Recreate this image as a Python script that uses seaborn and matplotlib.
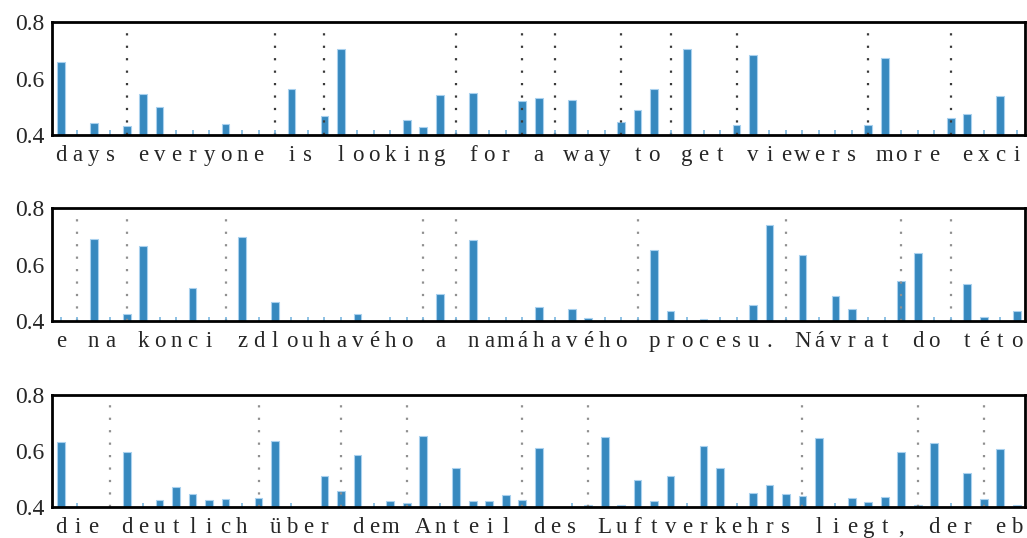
import numpy as np
import pandas as pd
import seaborn as sns
import matplotlib.pyplot as plt

# S = score under the 0.4 floor (drawn as a short stub), None = no mark
S = 0.38

text_en = "days everyone is looking for a way to get viewers more exci"
scores_en = [0.661, S, 0.442, S, 0.431, 0.546, 0.501, S, S, S,
             0.439, S, S, S, 0.563, S, 0.466, 0.705, S, S,
             S, 0.453, 0.428, 0.542, S, 0.548, S, S, 0.521, 0.531,
             S, 0.525, S, S, 0.447, 0.488, 0.564, S, 0.707, S,
             S, 0.437, 0.685, S, S, S, S, S, S, 0.434,
             0.675, S, S, S, 0.462, 0.475, S, 0.538, S]

text_cs = "e na konci zdlouhavého a namáhavého procesu. Návrat do této"
scores_cs = [S, S, 0.693, S, 0.425, 0.665, S, S, 0.516, S,
             S, 0.697, S, 0.466, S, S, S, S, 0.424, None,
             S, S, S, 0.495, S, 0.689, S, S, S, 0.450,
             S, 0.443, 0.411, S, S, S, 0.651, 0.434, S, 0.407,
             S, S, 0.456, 0.741, S, 0.635, S, 0.489, 0.443, S,
             S, 0.543, 0.640, S, S, 0.533, 0.415, S, 0.437]

text_de = "die deutlich über dem Anteil des Luftverkehrs liegt, der eb"
scores_de = [0.632, S, None, None, 0.597, S, 0.425, 0.473, 0.448, 0.425,
             0.428, S, 0.432, 0.635, S, None, 0.511, 0.458, 0.585, S,
             0.421, 0.415, 0.652, S, 0.539, 0.422, 0.421, 0.444, 0.426, 0.611,
             None, S, 0.408, 0.649, 0.407, 0.497, 0.421, 0.511, S, 0.617,
             0.539, S, 0.450, 0.479, 0.447, 0.440, 0.645, S, 0.434, 0.418,
             0.435, 0.597, 0.407, 0.629, S, 0.522, 0.428, 0.606, 0.407]

panels = [(text_en, scores_en, "#3a3a3a", 0.7491),
          (text_cs, scores_cs, "#909090", 0.4033),
          (text_de, scores_de, "#909090", 0.0570)]

BAR = "#3789bf"
EDGE = "#a9d1ee"
FLOOR = 0.4

sns.set_style("white")
plt.rcParams["font.family"] = ["Liberation Serif", "DejaVu Serif"]

fig = plt.figure(figsize=(10.27, 5.38), dpi=100)

for text, scores, dotcol, bottom in panels:
    ax = fig.add_axes([0.0511, bottom, 0.9469, 0.2093])
    n = len(text)
    df = pd.DataFrame({"pos": list(range(n)), "score": scores}).dropna()
    df["score"] = df["score"].astype(float)

    sns.barplot(data=df, x="pos", y="score", order=list(range(n)),
                color=BAR, saturation=1, width=0.47,
                edgecolor=EDGE, linewidth=0.8, ax=ax)

    # scores under the floor show as thin stubs on the axis
    low = df[df["score"] < FLOOR]["pos"]
    ax.vlines(low, FLOOR, FLOOR + 0.016, color="#6fb0dc", lw=1.1, zorder=2)

    # word boundaries
    for i, ch in enumerate(text):
        if ch == " ":
            ax.axvline(i, color=dotcol, lw=1.6, ls=(0, (1, 4.6)), zorder=1)

    ax.set_xlim(-0.5, n - 0.5)
    ax.set_ylim(0.4, 0.8)
    ax.set_yticks([0.4, 0.6, 0.8])
    ax.set_yticklabels(["0.4", "0.6", "0.8"], fontsize=17)
    ax.set_xticks(range(n))
    ax.set_xticklabels(list(text), fontsize=16.5)
    ax.tick_params(axis="both", length=0)
    ax.tick_params(axis="y", pad=6)
    ax.tick_params(axis="x", pad=7)
    ax.set_xlabel("")
    ax.set_ylabel("")
    for sp in ax.spines.values():
        sp.set_visible(True)
        sp.set_color("black")
        sp.set_linewidth(2)

fig.savefig("out.png", dpi=100)
